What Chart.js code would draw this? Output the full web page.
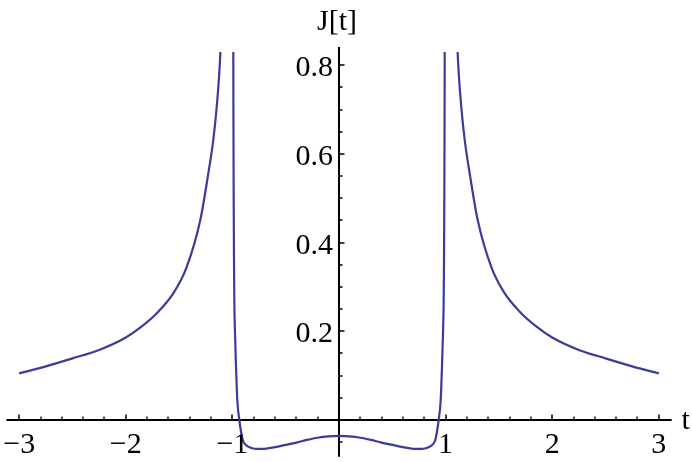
<!DOCTYPE html>
<html>
<head>
<meta charset="utf-8">
<script src="https://cdn.jsdelivr.net/npm/chart.js@4.4.1/dist/chart.umd.min.js"></script>
<style>
  html, body { margin: 0; padding: 0; background: #fff; }
</style>
</head>
<body>
<canvas id="myChart" width="692" height="462"></canvas>
<script>
// J[t], three branches

// left branch, t < -1.1
const tLeft = [-3.0, -2.75, -2.5, -2.25, -2.0, -1.85, -1.7, -1.55, -1.43, -1.3, -1.23, -1.18, -1.147, -1.123, -1.113, -1.103];
const jLeft = [0.105, 0.121, 0.139, 0.158, 0.186, 0.211, 0.243, 0.287, 0.344, 0.452, 0.55, 0.63, 0.706, 0.782, 0.827, 0.87];

// middle branch, -1 < t < 1
const tMid = [-0.9918, -0.9905, -0.988, -0.985, -0.982, -0.9756, -0.966, -0.954, -0.935, -0.903, -0.87, -0.835, -0.78, -0.72, -0.6, -0.5, -0.4, -0.3, -0.2, -0.1, 0,
              0.1, 0.2, 0.3, 0.4, 0.5, 0.6, 0.72, 0.78, 0.835, 0.87, 0.903, 0.935, 0.954, 0.966, 0.9756, 0.982, 0.985, 0.988, 0.9905, 0.9918];
const jMid = [0.87, 0.70, 0.50, 0.36, 0.27, 0.196, 0.12, 0.045, 0, -0.045, -0.057, -0.062, -0.065, -0.065, -0.061, -0.056, -0.051, -0.045, -0.040, -0.037, -0.036,
              -0.037, -0.040, -0.045, -0.051, -0.056, -0.061, -0.065, -0.065, -0.062, -0.057, -0.045, 0, 0.045, 0.12, 0.196, 0.27, 0.36, 0.50, 0.70, 0.87];

// right branch, t > 1.1
const tRight = [1.103, 1.113, 1.123, 1.147, 1.18, 1.23, 1.3, 1.43, 1.55, 1.7, 1.85, 2.0, 2.25, 2.5, 2.75, 3.0];
const jRight = [0.87, 0.827, 0.782, 0.706, 0.63, 0.55, 0.452, 0.344, 0.287, 0.243, 0.211, 0.186, 0.158, 0.139, 0.121, 0.105];

// axis ticks
const xTicks = [-3, -2, -1, 1, 2, 3];
const xTickLabels = ['\u22123', '\u22122', '\u22121', '1', '2', '3'];
const yTicks = [0.2, 0.4, 0.6, 0.8];
const yTickLabels = ['0.2', '0.4', '0.6', '0.8'];

const curveColor = '#3b3b9c';
const font = '30px "Liberation Serif", "Times New Roman", serif';

function pts(ts, js) {
  return ts.map((t, i) => ({ x: t, y: js[i] }));
}

function branch(ts, js) {
  return {
    data: pts(ts, js),
    borderColor: curveColor,
    borderWidth: 2.2,
    pointRadius: 0,
    fill: false,
    cubicInterpolationMode: 'monotone',
    clip: { left: 0, right: 0, bottom: 0, top: -5 }
  };
}

// Mathematica style axes crossing at the origin, ticks pointing inward
const axesPlugin = {
  id: 'mmaAxes',
  beforeDatasetsDraw(chart) {
    const { ctx, scales: { x, y } } = chart;
    const x0 = x.getPixelForValue(0);
    const y0 = y.getPixelForValue(0);
    ctx.save();
    ctx.strokeStyle = '#000';
    ctx.lineWidth = 2;
    ctx.beginPath();
    ctx.moveTo(x.left, y0); ctx.lineTo(x.right, y0);
    ctx.moveTo(x0, y.top); ctx.lineTo(x0, y.bottom);
    ctx.stroke();

    // minor ticks
    ctx.lineWidth = 1.3;
    ctx.beginPath();
    for (let k = -15; k <= 15; k++) {
      if (k % 5 === 0) continue;
      const v = k * 0.2;
      if (v < x.min || v > x.max) continue;
      const px = Math.round(x.getPixelForValue(v));
      ctx.moveTo(px, y0); ctx.lineTo(px, y0 - 3.5);
    }
    for (let k = -1; k <= 16; k++) {
      if (k % 4 === 0) continue;
      const v = k * 0.05;
      if (v < y.min || v > y.max) continue;
      const py = Math.round(y.getPixelForValue(v));
      ctx.moveTo(x0, py); ctx.lineTo(x0 + 3.5, py);
    }
    ctx.stroke();

    // major ticks
    ctx.lineWidth = 1.5;
    ctx.beginPath();
    xTicks.forEach(v => {
      const px = Math.round(x.getPixelForValue(v));
      ctx.moveTo(px, y0); ctx.lineTo(px, y0 - 5.5);
    });
    yTicks.forEach(v => {
      const py = Math.round(y.getPixelForValue(v));
      ctx.moveTo(x0, py); ctx.lineTo(x0 + 5.5, py);
    });
    ctx.stroke();
    ctx.restore();
  },
  afterDraw(chart) {
    const { ctx, scales: { x, y } } = chart;
    const x0 = x.getPixelForValue(0);
    const y0 = y.getPixelForValue(0);
    ctx.save();
    ctx.fillStyle = '#000';
    ctx.font = font;
    ctx.textBaseline = 'alphabetic';

    ctx.textAlign = 'center';
    xTicks.forEach((v, i) => {
      ctx.fillText(xTickLabels[i], x.getPixelForValue(v), y0 + 33);
    });

    ctx.textAlign = 'right';
    yTicks.forEach((v, i) => {
      ctx.fillText(yTickLabels[i], x0 - 6, y.getPixelForValue(v) + 11);
    });

    // axis labels
    ctx.textAlign = 'center';
    ctx.fillText('J[t]', x0 - 2, 30);
    ctx.textAlign = 'left';
    ctx.fillText('t', x.right + 10, y0 + 9);
    ctx.restore();
  }
};

const ctx = document.getElementById('myChart').getContext('2d');
window.myChartInstance = new Chart(ctx, {
  type: 'line',
  data: {
    datasets: [branch(tLeft, jLeft), branch(tMid, jMid), branch(tRight, jRight)]
  },
  options: {
    responsive: false,
    animation: false,
    layout: { padding: { left: 6.4, right: 20.4, top: 47, bottom: 5.2 } },
    plugins: { legend: { display: false }, tooltip: { enabled: false } },
    scales: {
      x: { type: 'linear', min: -3.12, max: 3.12, display: false },
      y: { type: 'linear', min: -0.083, max: 0.841, display: false }
    }
  },
  plugins: [axesPlugin]
});
</script>
</body>
</html>
